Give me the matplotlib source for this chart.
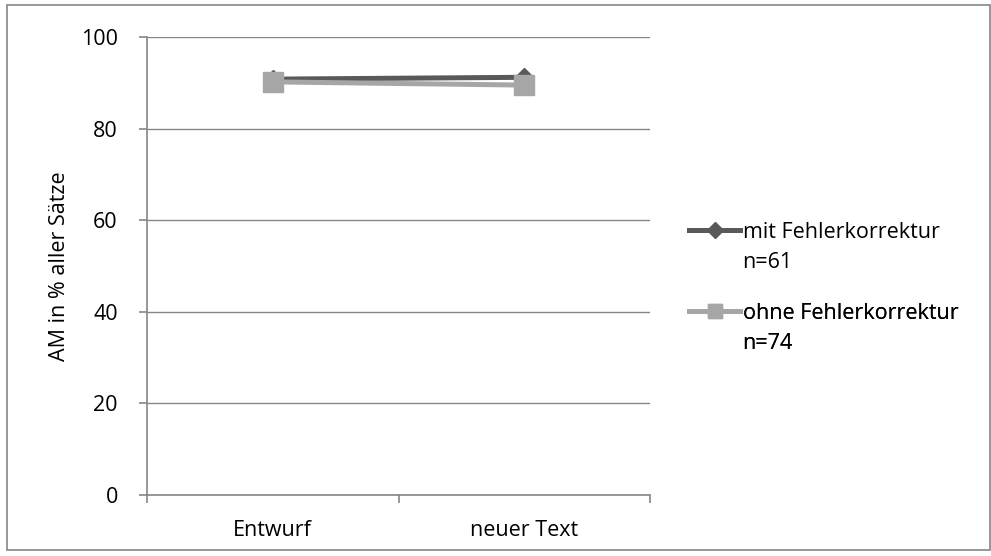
import matplotlib.pyplot as plt
from matplotlib.patches import Rectangle
from matplotlib.lines import Line2D

plt.rcParams['font.family'] = ['Open Sans', 'DejaVu Sans']

categories = ["Entwurf", "neuer Text"]
mit_korrektur = [90.8, 91.2]
ohne_korrektur = [90.2, 89.5]
series_names = ["mit Fehlerkorrektur", "ohne Fehlerkorrektur"]
series_n = ["n=61", "n=74"]

dark = "#595959"
light = "#a6a6a6"
axis_grey = "#868686"
fs = 15.5

fig = plt.figure(figsize=(9.91, 5.56), dpi=100)
ax = fig.add_axes([147 / 991, 1 - 495 / 556, (650 - 147) / 991, (495 - 37) / 556])

x = [0.5, 1.5]
ax.plot(x, mit_korrektur, color=dark, lw=3.6, marker="D", markersize=9, zorder=3)
ax.plot(x, ohne_korrektur, color=light, lw=3.6, marker="s", markersize=14, zorder=4)

ax.set_xlim(0, 2)
ax.set_ylim(0, 100)
ax.set_yticks(range(0, 101, 20))
ax.yaxis.grid(True, color=axis_grey, lw=1)
ax.set_axisbelow(True)

ax.set_xticks([0, 1, 2])
ax.set_xticklabels([])
ax.set_xticks(x, minor=True)
ax.set_xticklabels(categories, minor=True)
ax.tick_params(axis="x", which="minor", length=0, pad=18, labelsize=fs)
ax.tick_params(axis="x", which="major", length=6, color=axis_grey, width=1.2)
ax.tick_params(axis="y", length=6, color=axis_grey, width=1.2, labelsize=fs, pad=15)

for side in ["top", "right"]:
    ax.spines[side].set_visible(False)
for side in ["left", "bottom"]:
    ax.spines[side].set_color(axis_grey)
    ax.spines[side].set_linewidth(1.2)

ax.set_ylabel("AM in % aller Sätze", fontsize=fs, labelpad=8)

# legend: one block per series, handle next to the first line only
blank = Line2D([], [], lw=0)
leg_handles = [
    (Line2D([], [], color=dark, lw=3.6, marker="D", markersize=8), blank),
    (Line2D([], [], color=light, lw=3.6, marker="s", markersize=10), blank),
]
anchors = [0.597, 0.42]
for i, (h, b) in enumerate(leg_handles):
    leg = ax.legend([h, b], [series_names[i], series_n[i]], loc="upper left",
                    bbox_to_anchor=(1.077, anchors[i]), frameon=False, fontsize=fs,
                    handlelength=2.4, handletextpad=0.1, labelspacing=0.45,
                    borderpad=0, borderaxespad=0)
    ax.add_artist(leg)

fig.patches.append(Rectangle((7 / 991, 6 / 556), 983 / 991, 545 / 556,
                             transform=fig.transFigure, fill=False,
                             edgecolor=axis_grey, lw=1.2))

fig.savefig("out.png", dpi=100)
